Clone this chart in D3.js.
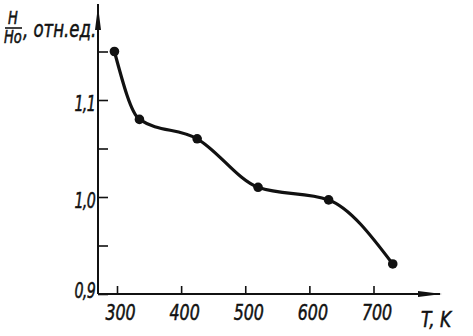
<!DOCTYPE html>
<html>
<head>
<meta charset="utf-8">
<script src="https://cdn.jsdelivr.net/npm/d3@7"></script>
<style>
  body { margin: 0; background: #fff; }
  text { font-family: "DejaVu Sans Condensed", "DejaVu Sans", sans-serif; font-style: italic; fill: #111; stroke: #111; stroke-width: 0.5; }
</style>
</head>
<body>
<script>
// readings
var temps = [296, 335, 425, 520, 630, 730];
var ratio = [1.150, 1.080, 1.060, 1.010, 0.997, 0.931];
var xTicks = [300, 400, 500, 600, 700];
var yTicks = [0.9, 0.95, 1.0, 1.05, 1.1, 1.15];
var yLabels = {'0.9': '0,9', '1': '1,0', '1.1': '1,1'};

var screen = { width: 473, height: 336 };

var svg = d3.select('body').append('svg')
            .attr('width', screen.width)
            .attr('height', screen.height);

var xScale = d3.scaleLinear().domain([300, 700]).range([117, 373.5]);
var yScale = d3.scaleLinear().domain([0.9, 1.1]).range([294, 100]);
var x0 = 98, y0 = 294;
var squeeze = 0.8; // drawing font is narrow

// x axis, ticks pointing up
var xAxis = d3.axisTop(xScale).tickValues(xTicks).tickSize(8).tickFormat('');
var gx = svg.append('g')
   .attr('transform', 'translate(0,' + y0 + ')')
   .call(xAxis);
gx.select('.domain').remove();
gx.selectAll('.tick line').attr('stroke', '#111').attr('stroke-width', 1.6);
gx.selectAll('.tick').append('text')
   .attr('transform', 'translate(3,26) scale(' + squeeze + ',1)')
   .attr('text-anchor', 'middle')
   .attr('font-size', 22)
   .text(function(d){ return d; });

// y axis, ticks pointing right
var yAxis = d3.axisRight(yScale).tickValues(yTicks).tickSize(10).tickFormat('');
var gy = svg.append('g')
   .attr('transform', 'translate(' + x0 + ',0)')
   .call(yAxis);
gy.select('.domain').remove();
gy.selectAll('.tick line').attr('stroke', '#111').attr('stroke-width', 1.6);
gy.selectAll('.tick').append('text')
   .attr('transform', function(d){
     return 'translate(-3,' + (d === 0.9 ? 3 : 10) + ') scale(0.72,1)';
   })
   .attr('text-anchor', 'end')
   .attr('font-size', 22)
   .attr('letter-spacing', -1)
   .text(function(d){ return yLabels[String(d)] || ''; });

// axis lines with arrows
svg.append('line').attr('x1', x0).attr('y1', y0).attr('x2', 440).attr('y2', y0)
   .attr('stroke', '#111').attr('stroke-width', 2);
svg.append('line').attr('x1', x0).attr('y1', y0).attr('x2', x0).attr('y2', 4)
   .attr('stroke', '#111').attr('stroke-width', 2);
svg.append('path').attr('d', 'M442,294 L418,291 L418,297 Z').attr('fill', '#111');
svg.append('path').attr('d', 'M98,6 L95,30 L101,30 Z').attr('fill', '#111');

// curve
var line = d3.line()
             .x(function(d, i){ return xScale(temps[i]); })
             .y(function(d){ return yScale(d); })
             .curve(d3.curveMonotoneX);
svg.append('path')
   .datum(ratio)
   .attr('d', line)
   .attr('fill', 'none')
   .attr('stroke', '#111')
   .attr('stroke-width', 3.2)
   .attr('stroke-linejoin', 'round');

svg.selectAll('circle.pt')
   .data(ratio)
   .enter()
   .append('circle')
   .attr('class', 'pt')
   .attr('cx', function(d, i){ return xScale(temps[i]); })
   .attr('cy', function(d){ return yScale(d); })
   .attr('r', 4.8)
   .attr('fill', '#111');

// axis titles
svg.append('text').attr('transform', 'translate(13,24) scale(0.85,1)').attr('text-anchor', 'middle')
   .attr('font-size', 17).text('H');
svg.append('line').attr('x1', 5).attr('y1', 28).attr('x2', 22).attr('y2', 28)
   .attr('stroke', '#111').attr('stroke-width', 1.6);
svg.append('text').attr('transform', 'translate(4,43) scale(0.85,1)')
   .attr('font-size', 17).text('Ho');
svg.append('text').attr('transform', 'translate(23,37) scale(' + squeeze + ',1)')
   .attr('font-size', 23).text(', отн.ед.');
svg.append('text').attr('transform', 'translate(421,327) scale(0.9,1)')
   .attr('font-size', 21).text('T, K');
</script>
</body>
</html>
